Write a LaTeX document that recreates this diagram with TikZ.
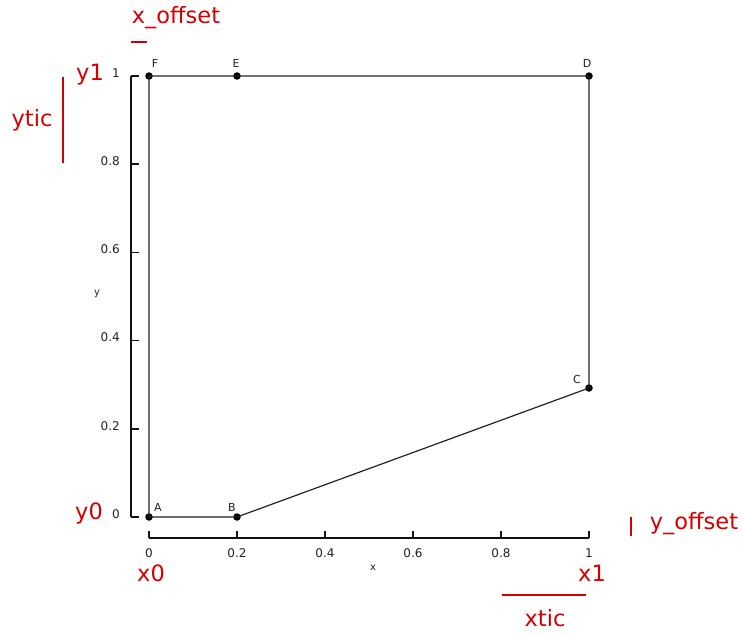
\documentclass[tikz,border=0pt]{standalone}
\usepackage{fontspec}
\setmainfont{DejaVu Sans}
\usepackage{xcolor}
\definecolor{ink}{HTML}{111111}
\definecolor{ink2}{HTML}{222222}
\definecolor{mark}{HTML}{D40000}
\usepackage{tikz}
\usetikzlibrary{positioning,calc}

\begin{document}
\begin{tikzpicture}[
  x=1pt,y=-1pt,
  axis/.style={draw=ink,line width=1.6pt},
  edge/.style={draw=ink2,line width=1.2pt},
  dot/.style={circle,fill=black,inner sep=0pt,minimum size=7.5pt},
  ticklbl/.style={font=\fontsize{12}{14}\selectfont,text=ink2,inner sep=1pt},
  ptlbl/.style={font=\fontsize{11}{13}\selectfont,text=ink2,inner sep=0pt},
  axlbl/.style={font=\fontsize{10}{12}\selectfont,text=ink2,inner sep=0pt},
  note/.style={font=\fontsize{22.5}{26}\selectfont,text=mark,inner sep=0pt},
  noteline/.style={draw=mark,line width=2pt}
]
\useasboundingbox (0,0) rectangle (743,633);

% polygon points
\node[dot] (A) at (149,517) {};
\node[dot] (B) at (237,517) {};
\node[dot] (C) at (589,388) {};
\node[dot] (D) at (589,76) {};
\node[dot] (E) at (237,76) {};
\node[dot] (F) at (149,76) {};
\draw[edge] (A.center) -- (B.center) -- (C.center) -- (D.center)
  -- (E.center) -- (F.center) -- cycle;

\node[ptlbl] (lA) at (158,507) {A};
\node[ptlbl] (lB) at (232,507) {B};
\node[ptlbl] (lC) at (577,379) {C};
\node[ptlbl] (lD) at (587,63) {D};
\node[ptlbl] (lE) at (236,63) {E};
\node[ptlbl] (lF) at (155,63) {F};

% axes
\coordinate (ytop) at (131,76);
\coordinate (ybot) at (131,517);
\coordinate (xleft) at (149,538);
\coordinate (xright) at (589,538);
\draw[axis] (ytop) -- (ybot);
\draw[axis] (xleft) -- (xright);
\foreach \v/\t in {0/0,0.2/0.2,0.4/0.4,0.6/0.6,0.8/0.8,1/1}{
  \draw[axis] ($(ybot)!\v!(ytop)$) -- ++(8,0);
  \node[ticklbl,anchor=east] at ($(ybot)!\v!(ytop)+(-10,-3)$) {\t};
  \draw[axis] ($(xleft)!\v!(xright)$) -- ++(0,-7);
  \node[ticklbl] at ($(xleft)!\v!(xright)+(0,15)$) {\t};
}
\node[axlbl] (ylab) at (97,294) {y};
\node[axlbl] (xlab) at (373,568) {x};

% annotations
\node[note] (xoff) at (176,18) {x\_offset};
\node[note] (yone) at (90,75) {y1};
\node[note] (ytic) at (32,120) {ytic};
\node[note] (yzero) at (89,513) {y0};
\node[note] (xzero) at (151,573) {x0};
\node[note] (xone) at (592,573) {x1};
\node[note] (xtic) at (545,618) {xtic};
\node[note] (yoff) at (694,524) {y\_offset};
\draw[noteline] (131,42) -- (147,42);
\draw[noteline] (63,77) -- (63,163);
\draw[noteline] (502,595) -- (586,595);
\draw[noteline] (631,517) -- (631,536);

\end{tikzpicture}
\end{document}
